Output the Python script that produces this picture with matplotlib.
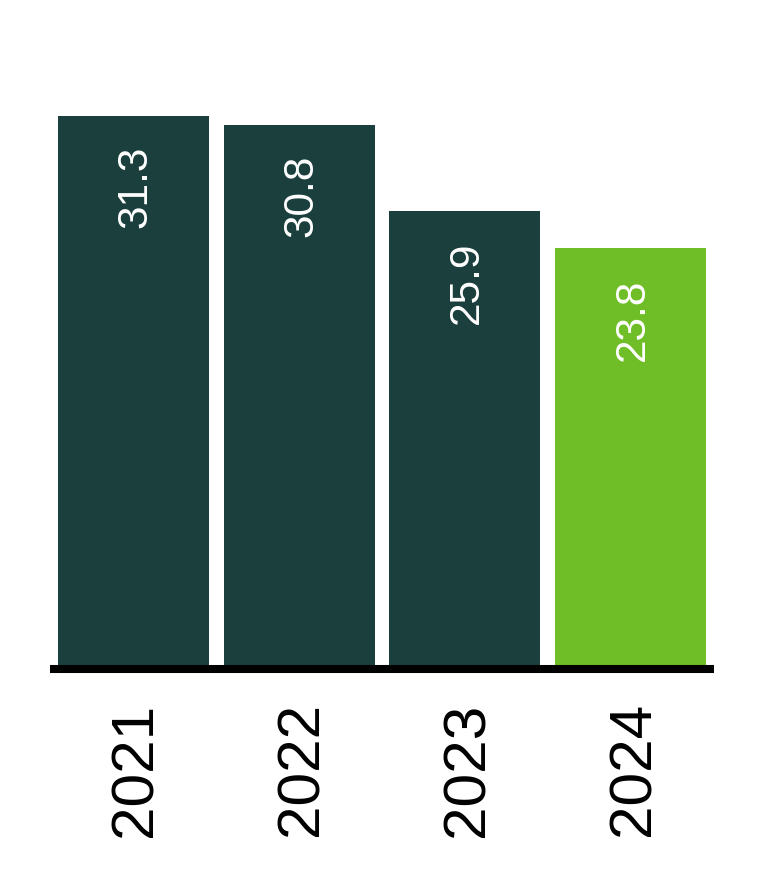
import matplotlib
matplotlib.use("Agg")
import matplotlib.pyplot as plt
import matplotlib.transforms as mtransforms

years = ["2021", "2022", "2023", "2024"]
values = [31.3, 30.8, 25.9, 23.8]
colors = ["#1b3f3d", "#1b3f3d", "#1b3f3d", "#6fbe27"]

plt.rcParams['font.family'] = ['Liberation Sans', 'DejaVu Sans']

W, H = 764, 871
fig = plt.figure(figsize=(W / 100, H / 100), dpi=100)
px_per_unit = 17.67
bottom_px = 669
top_px = 40
ax = fig.add_axes([50 / W, (H - bottom_px) / H, 664 / W, (bottom_px - top_px) / H])

x = list(range(len(years)))
ax.bar(x, values, width=151 / 166, color=colors, zorder=1)
ax.set_xlim(-0.503, 3.503)
ax.set_ylim(0, (bottom_px - top_px) / px_per_unit)

for xi, v in zip(x, values):
    ax.annotate(f"{v}", xy=(xi, v), xytext=(1.5, -21.5), textcoords="offset points",
                rotation=90, ha="center", va="top", color="white", fontsize=30.5)

for s in ["top", "right", "left"]:
    ax.spines[s].set_visible(False)
ax.spines["bottom"].set_linewidth(5.8)
ax.spines["bottom"].set_color("black")
ax.spines["bottom"].set_capstyle("butt")
ax.spines["bottom"].set_zorder(3)
ax.set_yticks([])
ax.set_xticks(x)
ax.set_xticklabels(years, rotation=90, fontsize=43.5)
ax.tick_params(axis="x", length=0, pad=24)
offset = mtransforms.ScaledTranslation(3 / 100, 0, fig.dpi_scale_trans)
for lbl in ax.get_xticklabels():
    lbl.set_transform(lbl.get_transform() + offset)

fig.savefig("out.png", dpi=100)
